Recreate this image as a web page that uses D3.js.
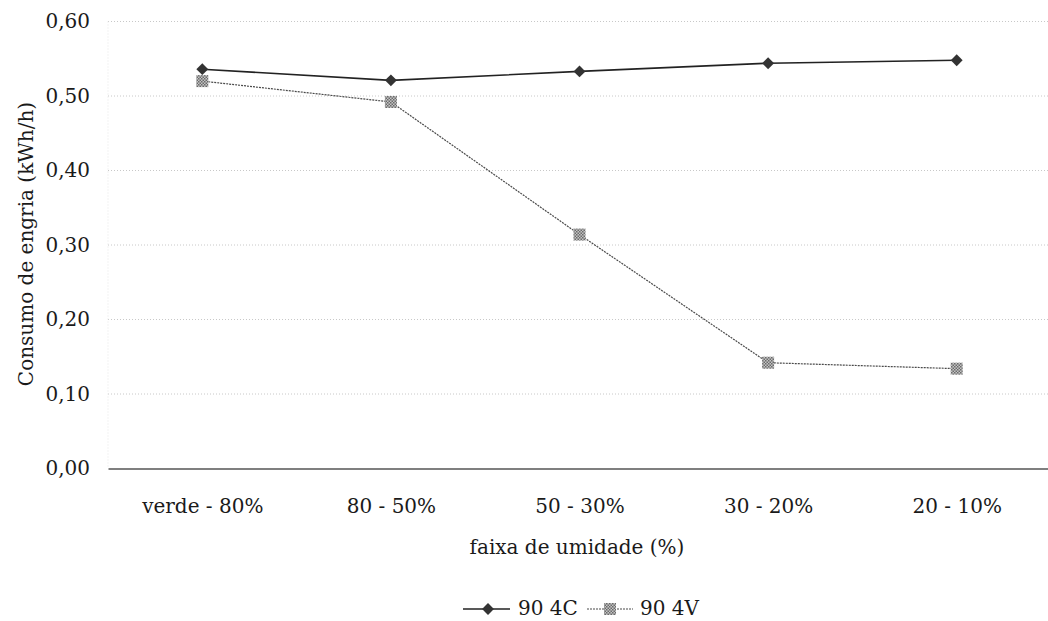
<!DOCTYPE html>
<html>
<head>
<meta charset="utf-8">
<script src="https://cdn.jsdelivr.net/npm/d3@7"></script>
<style>
  html, body { margin: 0; padding: 0; background: #fff; }
  svg { display: block; }
</style>
</head>
<body>
<svg id="chart" width="1048" height="621"></svg>
<script>
// Humidity ranges on the x axis
const categories = ["verde - 80%", "80 - 50%", "50 - 30%", "30 - 20%", "20 - 10%"];
// Energy consumption (kWh/h) per series
const series4C = [0.536, 0.521, 0.533, 0.544, 0.548];
const series4V = [0.520, 0.492, 0.314, 0.142, 0.134];
const seriesNames = ["90 4C", "90 4V"];
const yTicks = [0, 0.1, 0.2, 0.3, 0.4, 0.5, 0.6];

const svg = d3.select("#chart");
const plotLeft = 108, plotRight = 1051, plotTop = 21.5, plotBottom = 468.5;
const serif = "DejaVu Serif";
const fontSize = 20;

// checkered fill used by the square markers
const defs = svg.append("defs");
const pat = defs.append("pattern").attr("id", "checks")
  .attr("width", 3).attr("height", 3).attr("patternUnits", "userSpaceOnUse");
pat.append("rect").attr("width", 3).attr("height", 3).attr("fill", "#c4c4c4");
pat.append("rect").attr("width", 1.5).attr("height", 1.5).attr("fill", "#6a6a6a");
pat.append("rect").attr("x", 1.5).attr("y", 1.5).attr("width", 1.5).attr("height", 1.5).attr("fill", "#6a6a6a");

const x = d3.scalePoint().domain(categories).range([plotLeft, plotRight]).padding(0.5);
const y = d3.scaleLinear().domain([0, 0.6]).range([plotBottom, plotTop]);

// horizontal gridlines
svg.append("g").selectAll("line").data(yTicks.filter(d => d > 0)).join("line")
  .attr("x1", plotLeft).attr("x2", plotRight)
  .attr("y1", d => y(d)).attr("y2", d => y(d))
  .attr("stroke", "#c8c8c8").attr("stroke-width", 1)
  .attr("stroke-dasharray", "1,2");

// faint left frame
svg.append("line").attr("x1", plotLeft).attr("x2", plotLeft).attr("y1", plotTop).attr("y2", plotBottom)
  .attr("stroke", "#e6e6e6").attr("stroke-dasharray", "1,2");

// y axis labels
const fmt = d => d3.format(".2f")(d).replace(".", ",");
const yAxis = d3.axisLeft(y).tickValues(yTicks).tickFormat(fmt).tickSize(0).tickPadding(18);
const gy = svg.append("g").attr("transform", `translate(${plotLeft},0)`).call(yAxis)
  .attr("font-family", serif).attr("font-size", fontSize);
gy.select(".domain").remove();
gy.selectAll("text").attr("fill", "#1a1a1a");

// x axis baseline and category labels
const xAxis = d3.axisBottom(x).tickSize(0).tickPadding(30);
const gx = svg.append("g").attr("transform", `translate(0,${plotBottom})`).call(xAxis)
  .attr("font-family", serif).attr("font-size", fontSize);
gx.select(".domain").attr("stroke", "#555").attr("stroke-width", 1.3);
gx.selectAll("text").attr("fill", "#1a1a1a");

// axis titles
svg.append("text").attr("x", 577).attr("y", 554).attr("text-anchor", "middle")
  .attr("font-family", serif).attr("font-size", fontSize).attr("fill", "#1a1a1a")
  .text("faixa de umidade (%)");
svg.append("text").attr("transform", "translate(33,244) rotate(-90)").attr("text-anchor", "middle")
  .attr("font-family", serif).attr("font-size", fontSize).attr("fill", "#1a1a1a")
  .text("Consumo de engria (kWh/h)");

const line = d3.line().x((d, i) => x(categories[i])).y(d => y(d));

// series 90 4V (dotted line, square markers)
svg.append("path").datum(series4V).attr("d", line).attr("fill", "none")
  .attr("stroke", "#4a4a4a").attr("stroke-width", 1.2).attr("stroke-dasharray", "2,1");
svg.append("g").selectAll("rect").data(series4V).join("rect")
  .attr("x", (d, i) => x(categories[i]) - 6).attr("y", d => y(d) - 6)
  .attr("width", 12).attr("height", 12).attr("fill", "url(#checks)");

// series 90 4C (solid line, diamond markers)
svg.append("path").datum(series4C).attr("d", line).attr("fill", "none")
  .attr("stroke", "#222").attr("stroke-width", 1.6);
const diamond = d3.symbol().type(d3.symbolDiamond2).size(90);
svg.append("g").selectAll("path").data(series4C).join("path")
  .attr("d", diamond)
  .attr("transform", (d, i) => `translate(${x(categories[i])},${y(d)})`)
  .attr("fill", "#333");

// legend
const lg = svg.append("g").attr("font-family", serif).attr("font-size", fontSize).attr("fill", "#1a1a1a");
lg.append("line").attr("x1", 463).attr("x2", 510).attr("y1", 609).attr("y2", 609)
  .attr("stroke", "#222").attr("stroke-width", 1.6);
lg.append("path").attr("d", diamond).attr("transform", "translate(488,609)").attr("fill", "#333");
lg.append("text").attr("x", 518).attr("y", 615).text(seriesNames[0]);
lg.append("line").attr("x1", 587).attr("x2", 633).attr("y1", 609).attr("y2", 609)
  .attr("stroke", "#4a4a4a").attr("stroke-width", 1.2).attr("stroke-dasharray", "2,1");
lg.append("rect").attr("x", 604).attr("y", 603).attr("width", 12).attr("height", 12).attr("fill", "url(#checks)");
lg.append("text").attr("x", 640).attr("y", 615).text(seriesNames[1]);
</script>
</body>
</html>
